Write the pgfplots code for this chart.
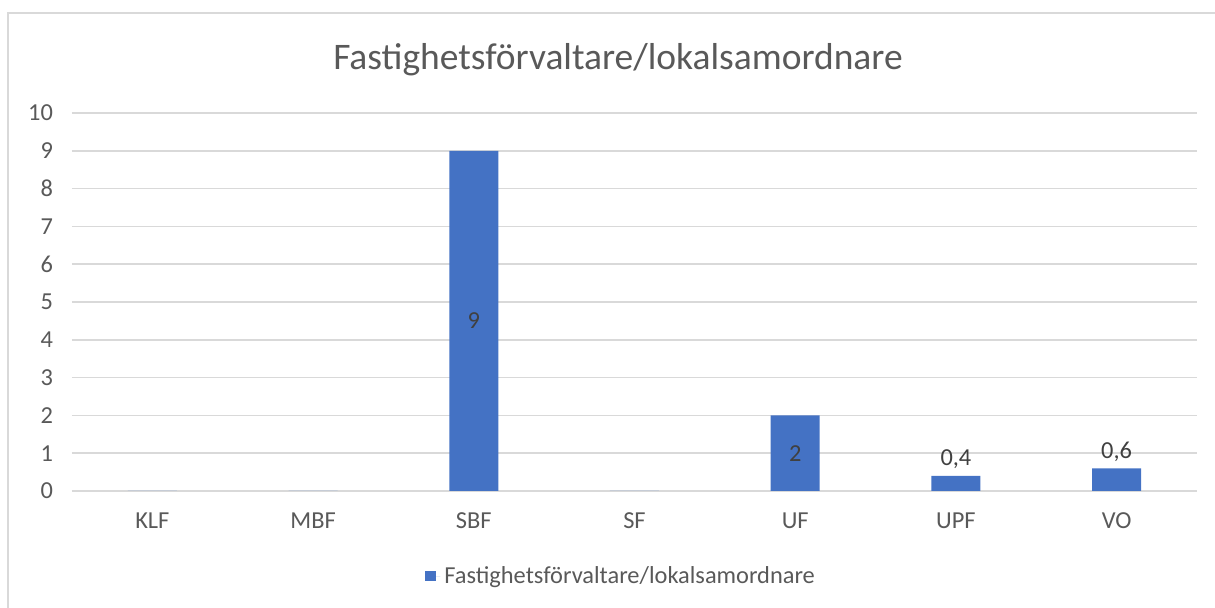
\documentclass[border=0pt]{standalone}
\usepackage{fontspec}
\setmainfont{Carlito}
\usepackage{pgfplots}
\pgfplotsset{compat=1.18}
\definecolor{barblue}{HTML}{4472C4}
\definecolor{gridgray}{HTML}{D9D9D9}
\definecolor{txtgray}{HTML}{595959}
\definecolor{lblgray}{HTML}{404040}
\begin{document}
\begin{tikzpicture}[x=1pt,y=1pt]
\useasboundingbox (0,0) rectangle (607.5,304);
\draw[gridgray, line width=0.75pt] (4,-5) -- (4,297.5) -- (620,297.5);
\node[txtgray, font=\fontsize{18.75}{22}\selectfont, anchor=center] at (309,274) {Fastighetsförvaltare/lokalsamordnare};
\begin{axis}[at={(36pt,58.5pt)}, anchor=south west, scale only axis,
  width=562.5pt, height=189pt,
  xmin=-0.5, xmax=6.5, ymin=0, ymax=10,
  axis line style={draw=none},
  tick style={draw=none},
  ytick={0,1,...,10},
  ymajorgrids,
  grid style={gridgray, line width=0.75pt},
  xtick={0,1,...,6},
  xticklabels={KLF,MBF,SBF,SF,UF,UPF,VO},
  /pgf/number format/assume math mode=true,
  tick label style={font=\fontsize{12.2}{14}\selectfont, text=txtgray},
  yticklabel style={xshift=-6pt},
  xticklabel style={yshift=-7.5pt},
  legend style={at={(0.489,-0.225)}, anchor=center, draw=none, fill=none,
    font=\fontsize{12.2}{14}\selectfont, text=txtgray},
  legend image code/.code={\fill[barblue] (0pt,-2.6pt) rectangle (5.2pt,2.6pt); \path (0pt,0pt) -- (7.5pt,0pt);},
]
\addplot[ybar, bar width=24.5pt, fill=barblue, draw=none] coordinates {
  (0,0) (1,0) (2,9) (3,0) (4,2) (5,0.4) (6,0.6)
};
\addlegendentry{Fastighetsförvaltare/lokalsamordnare}
\addplot[draw=none, forget plot, nodes near coords, point meta=explicit symbolic,
  nodes near coords style={anchor=center, font=\fontsize{12.2}{14}\selectfont, text=lblgray}]
  coordinates {(2,4.5)[9] (4,1)[2]};
\addplot[draw=none, forget plot, nodes near coords, point meta=explicit symbolic,
  nodes near coords style={anchor=south, font=\fontsize{12.2}{14}\selectfont, text=lblgray}]
  coordinates {(5,0.4)[0,4] (6,0.6)[0,6]};
\end{axis}
\end{tikzpicture}
\end{document}
